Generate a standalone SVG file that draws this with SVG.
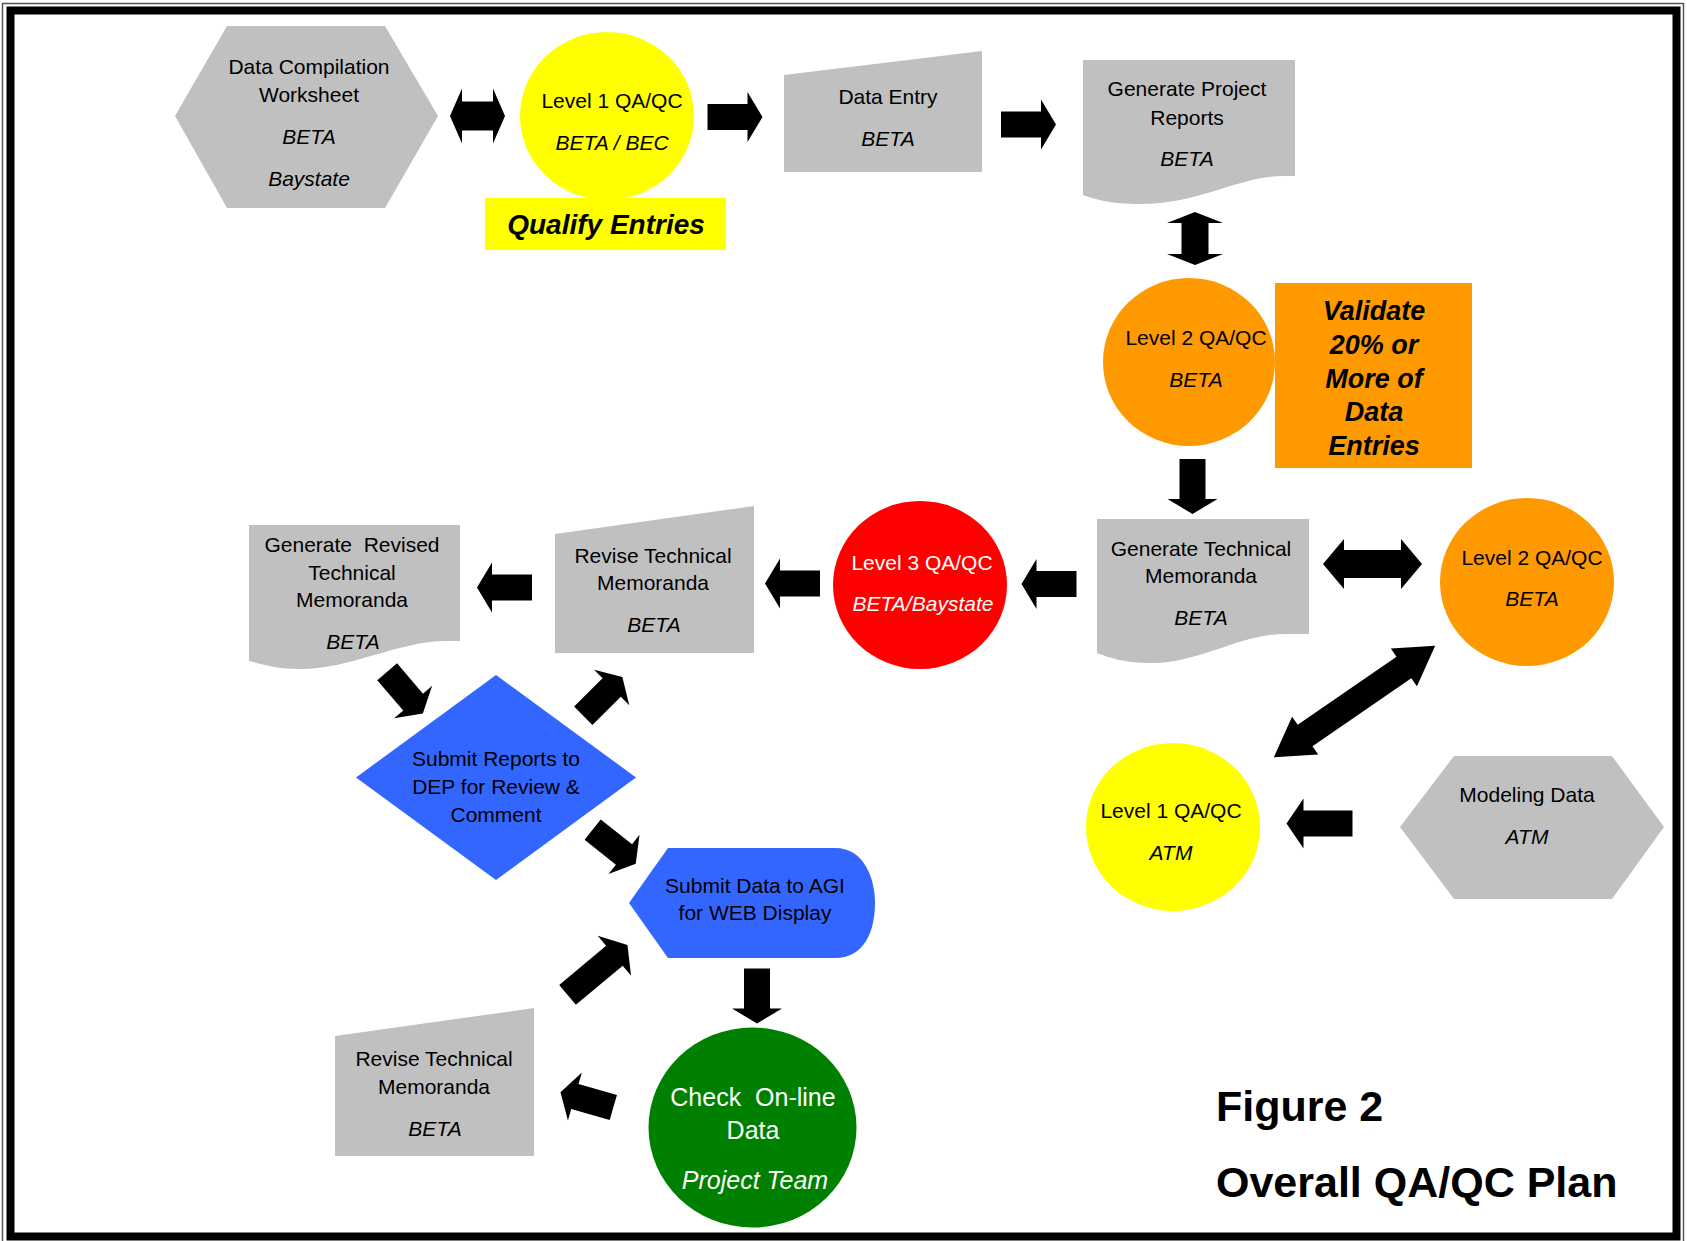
<svg xmlns="http://www.w3.org/2000/svg" xmlns:xlink="http://www.w3.org/1999/xlink" width="1687" height="1241" viewBox="0 0 1687 1241">
<style>
.t{font-family:"Liberation Sans",Arial,sans-serif;font-size:21px;fill:#000;text-anchor:middle}
.i{font-style:italic}
.w{fill:#fff}
.big{font-size:25px}
.bi{font-family:"Liberation Sans",Arial,sans-serif;font-weight:bold;font-style:italic;fill:#000;text-anchor:middle}
.title{font-family:"Liberation Sans",Arial,sans-serif;font-weight:bold;font-size:43px;fill:#000}
.gray{fill:#C0C0C0}
.yel{fill:#FFFF00}
.org{fill:#FF9900}
.blue{fill:#3366FF}
.arr{fill:#000}
</style>
<defs>
<polygon id="a55" points="-27.5,-13 12.5,-13 12.5,-25 27.5,0 12.5,25 12.5,13 -27.5,13"/>
<polygon id="a66" points="-33,-13 16,-13 16,-25 33,0 16,25 16,13 -33,13"/>
<polygon id="a78" points="-39,-13 22,-13 22,-26 39,0 22,26 22,13 -39,13"/>
</defs>
<rect x="0" y="0" width="1687" height="1241" fill="#fff"/>
<g id="frame">
<rect x="2.5" y="3.5" width="1681" height="1242" fill="none" stroke="#555" stroke-width="1.5"/>
<rect x="10.5" y="10.5" width="1666" height="1226" fill="none" stroke="#000" stroke-width="8"/>
</g>

<g id="connectors" class="arr">
<polygon points="450,116 462,88.5 462,101.5 493,101.5 493,88.5 505,116 493,143.5 493,130.5 462,130.5 462,143.5"/>
<polygon points="1195,212 1223,223 1208.5,223 1208.5,254 1223,254 1195,265 1167,254 1181.5,254 1181.5,223 1167,223"/>
<polygon points="1323,564 1344,539 1344,550 1401,550 1401,539 1422,564 1401,589 1401,578 1344,578 1344,589"/>
<polygon transform="translate(1354.5,701.5) rotate(-34.6)" points="-98,0 -60,-23 -60,-13 60,-13 60,-23 98,0 60,23 60,13 -60,13 -60,23"/>
<use xlink:href="#a55" transform="translate(735,117)"/>
<use xlink:href="#a55" transform="translate(1028.5,124.5)"/>
<use xlink:href="#a55" transform="translate(1192.5,486.5) rotate(90)"/>
<use xlink:href="#a55" transform="translate(1049,584) rotate(180)"/>
<use xlink:href="#a55" transform="translate(792.5,583.5) rotate(180)"/>
<use xlink:href="#a55" transform="translate(504.5,587.5) rotate(180)"/>
<use xlink:href="#a66" transform="translate(1319.5,823.5) rotate(180)"/>
<use xlink:href="#a55" transform="translate(757,996) rotate(90)"/>
<use xlink:href="#a55" transform="translate(405,692.6) rotate(49.5)"/>
<use xlink:href="#a55" transform="translate(602.8,696.3) rotate(-44.7)"/>
<use xlink:href="#a55" transform="translate(614.2,846.7) rotate(38.4)"/>
<use xlink:href="#a78" transform="translate(597.5,969.9) rotate(-39.8)"/>
<use xlink:href="#a55" transform="translate(586.9,1099.9) rotate(196.2)"/>
</g>

<g id="data-compilation">
<polygon class="gray" points="175,116 227,26 385,26 438,116 385,208 227,208"/>
<text class="t" x="309" y="74">Data Compilation</text>
<text class="t" x="309" y="102">Worksheet</text>
<text class="t i" x="309" y="144">BETA</text>
<text class="t i" x="309" y="186">Baystate</text>
</g>

<g id="level1-beta">
<ellipse class="yel" cx="607" cy="116" rx="87" ry="84"/>
<text class="t" x="612" y="108">Level 1 QA/QC</text>
<text class="t i" x="612" y="150">BETA / BEC</text>
</g>

<g id="qualify-entries">
<rect class="yel" x="485" y="198" width="241" height="52"/>
<text class="bi" style="font-size:28px" x="606" y="234">Qualify Entries</text>
</g>

<g id="data-entry">
<polygon class="gray" points="784,75 982,51 982,172 784,172"/>
<text class="t" x="888" y="104">Data Entry</text>
<text class="t i" x="888" y="146">BETA</text>
</g>

<g id="generate-project-reports">
<path class="gray" d="M1083,60 H1295 V176 L1282,176 C1240,176 1200,204 1140,204 C1112,204 1097,200 1083,195 Z"/>
<text class="t" x="1187" y="96">Generate Project</text>
<text class="t" x="1187" y="125">Reports</text>
<text class="t i" x="1187" y="166">BETA</text>
</g>

<g id="level2-upper">
<ellipse class="org" cx="1189" cy="362" rx="86" ry="84"/>
<text class="t" x="1196" y="345">Level 2 QA/QC</text>
<text class="t i" x="1196" y="387">BETA</text>
</g>

<g id="validate">
<rect class="org" x="1275" y="283" width="197" height="185"/>
<text class="bi" style="font-size:27px" x="1374" y="320">Validate</text>
<text class="bi" style="font-size:27px" x="1374" y="354">20% or</text>
<text class="bi" style="font-size:27px" x="1374" y="388">More of</text>
<text class="bi" style="font-size:27px" x="1374" y="421">Data</text>
<text class="bi" style="font-size:27px" x="1374" y="455">Entries</text>
</g>

<g id="generate-technical-memoranda">
<path class="gray" d="M1097,519 H1309 V634 L1285,634 C1240,634 1200,663 1152,663 C1125,663 1110,658 1097,653 Z"/>
<text class="t" x="1201" y="556">Generate Technical</text>
<text class="t" x="1201" y="583">Memoranda</text>
<text class="t i" x="1201" y="625">BETA</text>
</g>

<g id="level2-right">
<ellipse class="org" cx="1527" cy="582" rx="87" ry="84"/>
<text class="t" x="1532" y="565">Level 2 QA/QC</text>
<text class="t i" x="1532" y="606">BETA</text>
</g>

<g id="level1-atm">
<ellipse class="yel" cx="1173" cy="827" rx="87" ry="84"/>
<text class="t" x="1171" y="818">Level 1 QA/QC</text>
<text class="t i" x="1171" y="860">ATM</text>
</g>

<g id="modeling-data">
<polygon class="gray" points="1400,827 1454,756 1612,756 1664,827 1612,899 1454,899"/>
<text class="t" x="1527" y="802">Modeling Data</text>
<text class="t i" x="1527" y="844">ATM</text>
</g>

<g id="level3">
<ellipse fill="#FF0000" cx="920" cy="585" rx="87" ry="84"/>
<text class="t w" x="922" y="570">Level 3 QA/QC</text>
<text class="t i w" x="923" y="611">BETA/Baystate</text>
</g>

<g id="revise-upper">
<polygon class="gray" points="555,534 754,506 754,653 555,653"/>
<text class="t" x="653" y="563">Revise Technical</text>
<text class="t" x="653" y="590">Memoranda</text>
<text class="t i" x="654" y="632">BETA</text>
</g>

<g id="generate-revised">
<path class="gray" d="M249,525 H460 V641 L445,641 C400,641 350,669 301,669 C275,669 262,664 249,661 Z"/>
<text class="t" x="352" y="552" xml:space="preserve">Generate  Revised</text>
<text class="t" x="352" y="580">Technical</text>
<text class="t" x="352" y="607">Memoranda</text>
<text class="t i" x="353" y="649">BETA</text>
</g>

<g id="submit-reports">
<polygon class="blue" points="496,675 636,777.5 496,880 356,777.5"/>
<text class="t" x="496" y="766">Submit Reports to</text>
<text class="t" x="496" y="794">DEP for Review &amp;</text>
<text class="t" x="496" y="822">Comment</text>
</g>

<g id="submit-data">
<path class="blue" d="M629,903 L668,848 H835 C865,848 875,880 875,903 C875,930 865,958 835,958 H668 Z"/>
<text class="t" x="755" y="893">Submit Data to AGI</text>
<text class="t" x="755" y="920">for WEB Display</text>
</g>

<g id="check-online">
<ellipse fill="#008000" cx="752.5" cy="1127.5" rx="104" ry="100"/>
<text class="t w big" x="753" y="1106" xml:space="preserve">Check  On-line</text>
<text class="t w big" x="753" y="1139">Data</text>
<text class="t w big i" x="755" y="1189">Project Team</text>
</g>

<g id="revise-lower">
<polygon class="gray" points="335,1036 534,1008 534,1156 335,1156"/>
<text class="t" x="434" y="1066">Revise Technical</text>
<text class="t" x="434" y="1094">Memoranda</text>
<text class="t i" x="435" y="1136">BETA</text>
</g>

<g id="caption">
<text class="title" x="1216" y="1121">Figure 2</text>
<text class="title" x="1216" y="1197">Overall QA/QC Plan</text>
</g>
</svg>
